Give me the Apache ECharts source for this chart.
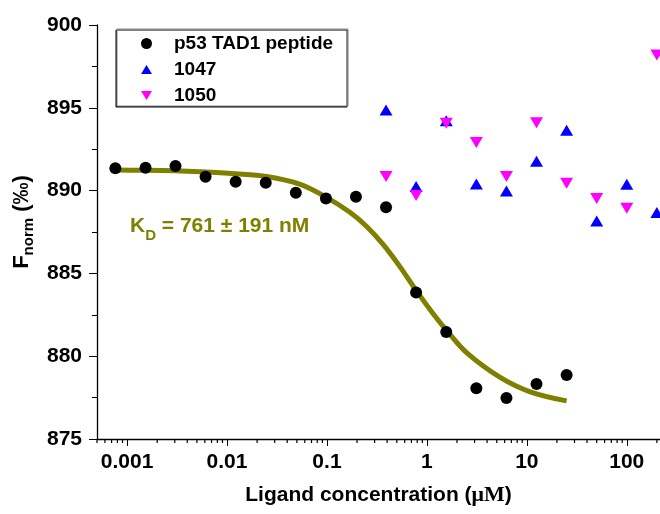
<!DOCTYPE html>
<html>
<head>
<meta charset="utf-8">
<script src="https://cdn.jsdelivr.net/npm/echarts@6/dist/echarts.min.js"></script>
<style>html,body{margin:0;padding:0;background:#fff;}#c{width:660px;height:514px;}</style>
</head>
<body>
<div id="c"></div>
<script>
// Concentrations (µM)
const concP53 = [0.000763, 0.00153, 0.00305, 0.0061, 0.0122, 0.0244, 0.0488, 0.0977, 0.195, 0.39, 0.78, 1.5625, 3.125, 6.25, 12.5, 25];
const valP53  = [891.35, 891.38, 891.49, 890.84, 890.54, 890.48, 889.87, 889.53, 889.63, 888.99, 883.84, 881.46, 878.06, 877.48, 878.32, 878.86];
const conc1047 = [0.39, 0.78, 1.5625, 3.125, 6.25, 12.5, 25, 50, 100, 200];
const val1047  = [894.87, 890.25, 894.22, 890.40, 889.98, 891.77, 893.64, 888.16, 890.38, 888.67];
const conc1050 = [0.39, 0.78, 1.5625, 3.125, 6.25, 12.5, 25, 50, 100, 200];
const val1050  = [890.85, 889.71, 894.06, 892.91, 890.85, 894.10, 890.44, 889.53, 888.93, 898.19];
// Fit curve
const fitConc = [0.00075, 0.0015, 0.003, 0.0054, 0.012, 0.025, 0.054, 0.096, 0.171, 0.251, 0.368, 0.541, 0.764, 1.16, 1.58, 2.51, 5.41, 10.8, 25];
const fitVal  = [891.24, 891.23, 891.20, 891.14, 891.02, 890.85, 890.38, 889.64, 888.68, 887.82, 886.72, 885.38, 884.05, 882.55, 881.55, 880.20, 878.72, 877.85, 877.30];
// Axis ticks
const xTickValues = [0.001, 0.01, 0.1, 1, 10, 100];
const xTickLabels = ['0.001', '0.01', '0.1', '1', '10', '100'];
const xMinorDecades = [0.0001, 0.001, 0.01, 0.1, 1, 10, 100];
const xMinorMult = [2, 3, 4, 5, 6, 7, 8, 9];
const seriesNames = ['p53 TAD1 peptide', '1047', '1050'];
const kdText = ['K', 'D', ' = 761 ± 191 nM'];

const X_MIN = 0.0005, X_MAX = 215, Y_MIN = 875, Y_MAX = 900;
const minorTicks = [];
xMinorDecades.forEach(d => xMinorMult.forEach(m => { const v = d * m; if (v >= X_MIN * 0.999 && v <= X_MAX) minorTicks.push([v, 1]); }));

const FONT = "'Liberation Sans', Arial, sans-serif";
const downTri = 'path://M0,0L12,0L6,10Z';
const upTri = 'path://M6,0L12,10L0,10Z';

const chart = echarts.init(document.getElementById('c'), null, {renderer: 'canvas'});
chart.setOption({
  animation: false,
  backgroundColor: '#fff',
  grid: [
    {left: 97, top: 25, right: 0, bottom: 75, containLabel: false},
    {left: 97, top: 439, right: 0, height: 6, containLabel: false}
  ],
  legend: {
    orient: 'vertical', left: 117, top: 29,
    padding: [5, 15, 1, 24], itemGap: 7, itemWidth: 11, itemHeight: 11,
    borderColor: '#888', borderWidth: 1, backgroundColor: '#fff',
    shadowColor: '#000', shadowBlur: 0, shadowOffsetX: -1, shadowOffsetY: 1,
    textStyle: {fontFamily: FONT, fontWeight: 'bold', fontSize: 19, color: '#000', padding: [0, 0, 0, 17]},
    data: [
      {name: seriesNames[0], icon: 'circle'},
      {name: seriesNames[1], icon: upTri},
      {name: seriesNames[2], icon: downTri}
    ]
  },
  xAxis: [{
    type: 'log', logBase: 10, min: X_MIN, max: X_MAX, gridIndex: 0,
    name: '{a|Ligand concentration (}{m|μM}{a|)}',
    nameLocation: 'middle', nameGap: 45,
    nameTextStyle: {rich: {
      a: {fontFamily: FONT, fontWeight: 'bold', fontSize: 21, color: '#000'},
      m: {fontFamily: "'Liberation Serif', 'Times New Roman', serif", fontWeight: 'bold', fontSize: 22, color: '#000'}
    }},
    axisLine: {show: true, onZero: false, lineStyle: {color: '#000', width: 1.3}},
    axisTick: {show: true, length: 7, lineStyle: {color: '#000', width: 1}},
    axisLabel: {
      margin: 13, fontFamily: FONT, fontWeight: 'bold', fontSize: 21, color: '#000',
      showMinLabel: false, showMaxLabel: false,
      formatter: function (v) {
        const lg = Math.log10(v);
        for (let i = 0; i < xTickValues.length; i++) {
          if (Math.abs(Math.log10(xTickValues[i]) - lg) < 1e-6) return xTickLabels[i];
        }
        return '';
      }
    },
    splitLine: {show: false}
  }, {
    type: 'log', logBase: 10, min: X_MIN, max: X_MAX, gridIndex: 1, show: false
  }],
  yAxis: [{
    type: 'value', min: Y_MIN, max: Y_MAX, interval: 5, gridIndex: 0,
    name: '{b|F}{s|norm}{b| (‰)}',
    nameLocation: 'middle', nameGap: 58, nameRotate: 90,
    nameTextStyle: {padding: [0, 0, 0, 20], rich: {
      b: {fontFamily: FONT, fontWeight: 'bold', fontSize: 22, color: '#000'},
      s: {fontFamily: FONT, fontWeight: 'bold', fontSize: 15, color: '#000', padding: [13, 0, 0, 0]}
    }},
    axisLine: {show: true, onZero: false, lineStyle: {color: '#000', width: 1.3}},
    axisTick: {show: true, length: 8, lineStyle: {color: '#000', width: 1}},
    minorTick: {show: true, splitNumber: 2, length: 5, lineStyle: {color: '#000', width: 1}},
    axisLabel: {margin: 15, fontFamily: FONT, fontWeight: 'bold', fontSize: 21, color: '#000'},
    splitLine: {show: false}
  }, {
    type: 'value', min: 0, max: 1, gridIndex: 1, show: false
  }],
  graphic: [{
    type: 'text', left: 130, top: 216, silent: true,
    style: {
      text: '{k|' + kdText[0] + '}{d|' + kdText[1] + '}{k|' + kdText[2] + '}',
      rich: {
        k: {fontFamily: FONT, fontWeight: 'bold', fontSize: 21, fill: '#808000'},
        d: {fontFamily: FONT, fontWeight: 'bold', fontSize: 15, fill: '#808000', padding: [18, 0, 0, 0]}
      }
    }
  }],
  series: [
    {
      name: 'fit', type: 'line', smooth: 0.35, symbol: 'none', silent: true,
      data: fitConc.map((c, i) => [c, fitVal[i]]),
      lineStyle: {color: '#808000', width: 5}, z: 2
    },
    {
      name: 'minorTicks', type: 'scatter', silent: true, xAxisIndex: 1, yAxisIndex: 1, z: 5,
      symbol: 'rect', symbolSize: [1.2, 4], symbolOffset: [0, 2],
      itemStyle: {color: '#000', opacity: 1},
      data: minorTicks
    },
    {
      name: seriesNames[0], type: 'scatter', symbol: 'circle', symbolSize: 12, z: 3,
      itemStyle: {color: '#000', opacity: 1},
      data: concP53.map((c, i) => [c, valP53[i]])
    },
    {
      name: seriesNames[1], type: 'scatter', symbol: 'triangle', symbolSize: [13, 11], z: 3,
      itemStyle: {color: '#0000ff', opacity: 1},
      data: conc1047.map((c, i) => [c, val1047[i]])
    },
    {
      name: seriesNames[2], type: 'scatter', symbol: downTri, symbolSize: [13, 11], z: 3,
      itemStyle: {color: '#ff00ff', opacity: 1},
      data: conc1050.map((c, i) => [c, val1050[i]])
    }
  ]
});
</script>
</body>
</html>
